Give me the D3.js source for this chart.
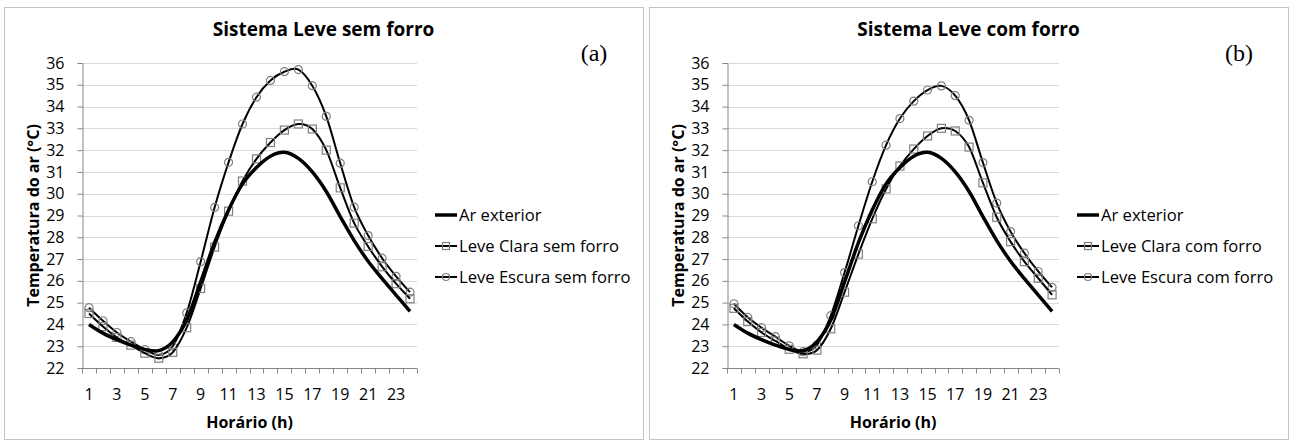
<!DOCTYPE html>
<html>
<head>
<meta charset="utf-8">
<script src="https://cdn.jsdelivr.net/npm/d3@7"></script>
<style>
  body { margin: 0; background: #fff; }
  svg text { font-family: "Open Sans", Lato, sans-serif; fill: #000; }
</style>
</head>
<body>
<svg id="chart" width="1291" height="441"></svg>
<script>
const hours = d3.range(1, 25);
const yTicks = d3.range(22, 37);
const xTickLabels = hours.filter(h => h % 2 === 1);

const arExterior = [24.0, 23.6, 23.3, 23.05, 22.85, 22.8, 23.2, 24.2, 25.95, 27.75, 29.25, 30.45,
    31.2, 31.72, 31.9, 31.62, 31.0, 30.1, 28.95, 27.85, 26.9, 26.1, 25.35, 24.6];

const claraSemForro = [24.5, 23.9, 23.4, 23.05, 22.68, 22.45, 22.72, 23.85, 25.65, 27.55, 29.2, 30.58,
    31.6, 32.35, 32.92, 33.2, 32.97, 32.0, 30.27, 28.65, 27.58, 26.65, 25.87, 25.18];
const escuraSemForro = [24.77, 24.17, 23.63, 23.21, 22.85, 22.6, 23.0, 24.53, 26.88, 29.37, 31.44, 33.2,
    34.43, 35.2, 35.6, 35.7, 34.96, 33.55, 31.4, 29.38, 28.08, 27.04, 26.21, 25.48];

const claraComForro = [24.74, 24.13, 23.63, 23.24, 22.86, 22.65, 22.82, 23.8, 25.48, 27.23, 28.85, 30.22,
    31.27, 32.05, 32.65, 33.0, 32.88, 32.14, 30.5, 28.92, 27.8, 26.88, 26.12, 25.36];
const escuraComForro = [24.95, 24.33, 23.85, 23.44, 23.02, 22.75, 23.05, 24.4, 26.38, 28.53, 30.55, 32.23,
    33.45, 34.25, 34.76, 34.95, 34.5, 33.37, 31.43, 29.57, 28.26, 27.27, 26.43, 25.7];

const panels = [
    { left: 4, title: "Sistema Leve sem forro", tag: "(a)", plotX: [82, 417],
      series: [
        { name: "Ar exterior", values: arExterior, width: 3.5, marker: null },
        { name: "Leve Clara sem forro", values: claraSemForro, width: 2, marker: "square" },
        { name: "Leve Escura sem forro", values: escuraSemForro, width: 2, marker: "circle" }
      ] },
    { left: 649, title: "Sistema Leve com forro", tag: "(b)", plotX: [727, 1059],
      series: [
        { name: "Ar exterior", values: arExterior, width: 3.5, marker: null },
        { name: "Leve Clara com forro", values: claraComForro, width: 2, marker: "square" },
        { name: "Leve Escura com forro", values: escuraComForro, width: 2, marker: "circle" }
      ] }
];

const svg = d3.select("#chart");
const frameW = 639, frameH = 432, frameTop = 7;
const plotTop = 63, plotBottom = 368;
const markerColor = "#808080";

const drawMarker = function (sel, type, size) {
    if (type === "square") {
        sel.append("rect")
            .attr("x", -size / 2).attr("y", -size / 2)
            .attr("width", size).attr("height", size)
            .attr("fill", "none")
            .attr("stroke", markerColor)
            .attr("stroke-width", 1.2);
    } else if (type === "circle") {
        sel.append("circle")
            .attr("r", size / 2)
            .attr("fill", "none")
            .attr("stroke", markerColor)
            .attr("stroke-width", 1.2);
    }
};

panels.forEach(p => {
    const g = svg.append("g");

    g.append("rect")
        .attr("x", p.left + 0.5).attr("y", frameTop + 0.5)
        .attr("width", frameW).attr("height", frameH)
        .attr("fill", "#fff")
        .attr("stroke", "#c4c4c4");

    const x = d3.scaleBand().domain(hours).range(p.plotX);
    const y = d3.scaleLinear().domain([22, 36]).range([plotBottom, plotTop]);
    const cx = h => x(h) + x.bandwidth() / 2;

    // gridlines
    g.append("g").selectAll("line")
        .data(yTicks.filter(t => t > 22))
        .enter().append("line")
        .attr("x1", p.plotX[0]).attr("x2", p.plotX[1])
        .attr("y1", d => Math.round(y(d)) + 0.5).attr("y2", d => Math.round(y(d)) + 0.5)
        .attr("stroke", "#d9d9d9")
        .attr("stroke-width", 1);

    // y axis
    const yAxis = g.append("g")
        .attr("transform", `translate(${p.plotX[0] + 0.5},0)`)
        .call(d3.axisLeft(y).tickValues(yTicks).tickSize(5).tickPadding(13));
    yAxis.select(".domain").attr("stroke", "#868686");
    yAxis.selectAll(".tick line").attr("stroke", "#868686");
    yAxis.selectAll("text").style("font-size", "16px");

    // x axis: ticks between categories
    const xAxisG = g.append("g")
        .attr("transform", `translate(0,${plotBottom + 0.5})`);
    xAxisG.append("line")
        .attr("x1", p.plotX[0]).attr("x2", p.plotX[1])
        .attr("stroke", "#868686");
    xAxisG.selectAll(".tk")
        .data(d3.range(0, 25))
        .enter().append("line")
        .attr("class", "tk")
        .attr("x1", i => Math.round(p.plotX[0] + i * x.step()) + 0.5)
        .attr("x2", i => Math.round(p.plotX[0] + i * x.step()) + 0.5)
        .attr("y1", 0).attr("y2", 5)
        .attr("stroke", "#868686");
    xAxisG.selectAll(".lbl")
        .data(xTickLabels)
        .enter().append("text")
        .attr("class", "lbl")
        .attr("x", d => cx(d))
        .attr("y", 31)
        .attr("text-anchor", "middle")
        .style("font-size", "16px")
        .text(d => d);

    // lines (Excel-style smoothed)
    const line = d3.line()
        .x((d, i) => cx(hours[i]))
        .y(d => y(d))
        .curve(d3.curveCatmullRom.alpha(0));

    p.series.slice().reverse().forEach(s => {
        g.append("path")
            .datum(s.values)
            .attr("d", line)
            .attr("fill", "none")
            .attr("stroke", "#000")
            .attr("stroke-width", s.width)
            .attr("stroke-linejoin", "round");
        if (s.marker) {
            const m = g.append("g").selectAll("g")
                .data(s.values)
                .enter().append("g")
                .attr("transform", (d, i) => `translate(${cx(hours[i])},${y(d)})`);
            drawMarker(m, s.marker, 8);
        }
    });

    // titles
    g.append("text")
        .attr("x", p.left + frameW / 2).attr("y", 36)
        .attr("text-anchor", "middle")
        .style("font-size", "19px")
        .style("font-weight", "bold")
        .text(p.title);

    g.append("text")
        .attr("x", p.left + frameW - 49).attr("y", 61)
        .attr("text-anchor", "middle")
        .style("font-family", "'Liberation Serif', 'Times New Roman', serif")
        .style("font-size", "24px")
        .text(p.tag);

    g.append("text")
        .attr("transform", `translate(${p.left + 29},${(plotTop + plotBottom) / 2}) rotate(-90)`)
        .attr("text-anchor", "middle")
        .attr("dy", "0.35em")
        .style("font-size", "16px")
        .style("font-weight", "bold")
        .text("Temperatura do ar (°C)");

    g.append("text")
        .attr("x", (p.plotX[0] + p.plotX[1]) / 2).attr("y", 428)
        .attr("text-anchor", "middle")
        .style("font-size", "16px")
        .style("font-weight", "bold")
        .text("Horário (h)");

    // legend
    const lx = p.plotX[1] + 18;
    const legend = g.append("g").selectAll("g")
        .data(p.series)
        .enter().append("g")
        .attr("transform", (d, i) => `translate(${lx},${215 + i * 31})`);
    legend.append("line")
        .attr("x1", 0).attr("x2", 22)
        .attr("stroke", "#000")
        .attr("stroke-width", d => d.width);
    legend.each(function (d) {
        if (d.marker) {
            const mg = d3.select(this).append("g").attr("transform", "translate(11,0)");
            drawMarker(mg, d.marker, 7);
        }
    });
    legend.append("text")
        .attr("x", 24).attr("dy", "0.35em")
        .style("font-size", "16.6px")
        .text(d => d.name);
});
</script>
</body>
</html>
